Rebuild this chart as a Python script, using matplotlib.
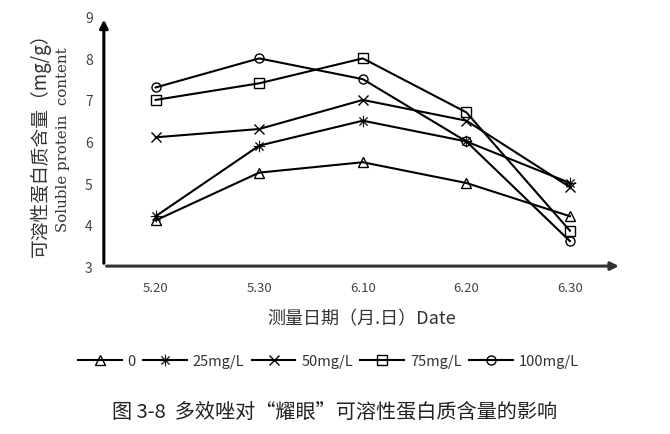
import matplotlib
matplotlib.use("Agg")
import matplotlib.pyplot as plt

plt.rcParams['font.family'] = ['Noto Sans CJK SC', 'DejaVu Sans']

dates = ["5.20", "5.30", "6.10", "6.20", "6.30"]
series_names = ["0", "25mg/L", "50mg/L", "75mg/L", "100mg/L"]
v0 = [4.1, 5.25, 5.5, 5.0, 4.2]
v25 = [4.2, 5.9, 6.5, 6.0, 5.0]
v50 = [6.1, 6.3, 7.0, 6.5, 4.9]
v75 = [7.0, 7.4, 8.0, 6.7, 3.85]
v100 = [7.3, 8.0, 7.5, 6.0, 3.6]
y_ticks = [3, 4, 5, 6, 7, 8, 9]

fig = plt.figure(figsize=(6.7, 4.35), dpi=100)
ax = fig.add_axes([0.155, 0.386, 0.773, 0.573])

x = list(range(len(dates)))
styles = [("^", v0), ("$\u2733$", v25), ("x", v50), ("s", v75), ("o", v100)]
for (m, vals), name in zip(styles, series_names):
    kw = dict(color="black", lw=1.5, marker=m, markersize=6.5,
              markerfacecolor="none", markeredgecolor="black", markeredgewidth=1.0)
    if m.startswith("$"):
        kw.update(markerfacecolor="black", markersize=8, markeredgewidth=0.3)
    ax.plot(x, vals, label=name, **kw)

ax.set_xlim(-0.5, 4.5)
ax.set_ylim(3, 9)
ax.set_yticks(y_ticks)
ax.set_xticks(x)
ax.set_xticklabels(dates, fontsize=9.5, color="#444444")
ax.tick_params(axis="y", labelsize=10, labelcolor="#444444", length=0, pad=8)
ax.tick_params(axis="x", length=0, pad=11)
for s in ["top", "right", "left", "bottom"]:
    ax.spines[s].set_visible(False)

# axes with arrows
ax.annotate("", xy=(0, 1.0), xytext=(0, 0), xycoords="axes fraction",
            arrowprops=dict(arrowstyle="-|>", color="black", lw=2.2, mutation_scale=12))
ax.annotate("", xy=(1.0, 0), xytext=(0, 0), xycoords="axes fraction",
            arrowprops=dict(arrowstyle="-|>", color="#333333", lw=2.2, mutation_scale=12))

fig.text(0.06, 0.678, "可溶性蛋白质含量（mg/g）", rotation=90, ha="center", va="center",
         fontsize=13.5, color="#333333")
fig.text(0.094, 0.678, "Soluble protein  content", rotation=90, ha="center", va="center",
         fontsize=10.8, color="#333333", family=["DejaVu Serif"])

fig.text(0.54, 0.265, "测量日期（月.日）Date", ha="center", va="center", fontsize=13,
         color="#333333")

handles, labels = ax.get_legend_handles_labels()
fig.legend(handles, labels, loc="center", bbox_to_anchor=(0.49, 0.168), ncol=5,
           frameon=False, fontsize=10.5, handlelength=3.0, columnspacing=0.5,
           handletextpad=0.4, labelcolor="#333333")

fig.text(0.5, 0.052, "图 3-8  多效唑对“耀眼”可溶性蛋白质含量的影响", ha="center", va="center",
         fontsize=14.5, color="#222222")

fig.savefig("out.png", dpi=100)
